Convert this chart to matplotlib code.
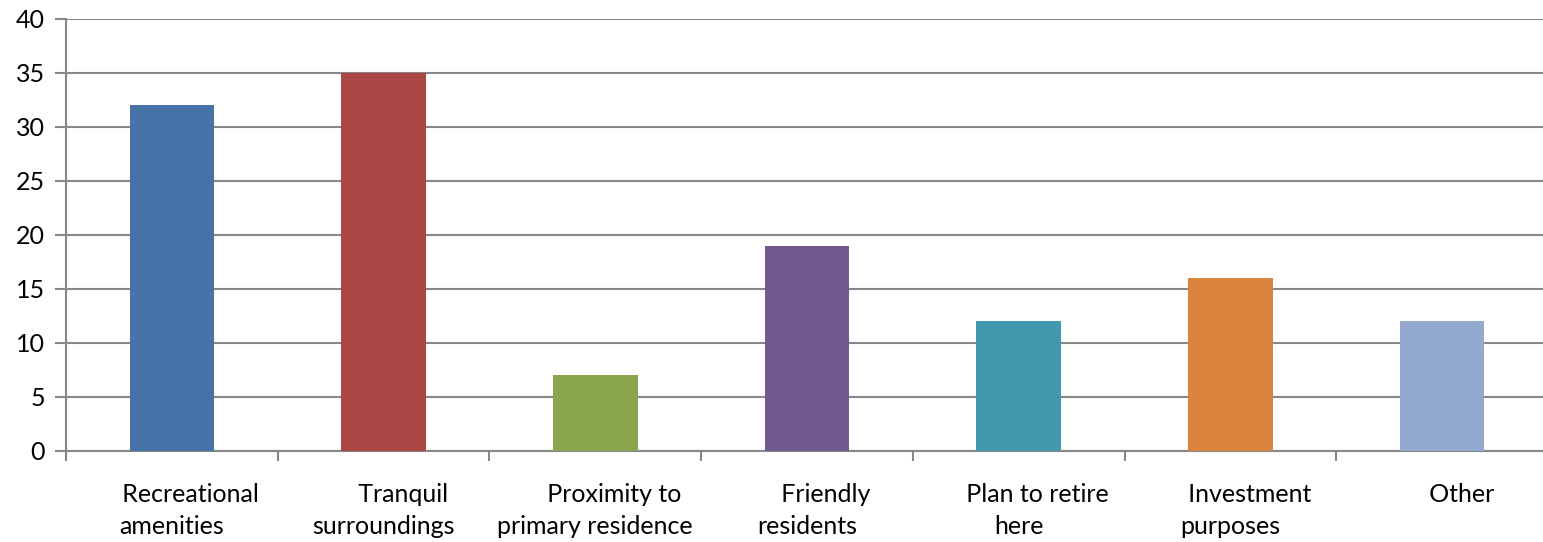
import numpy as np
import matplotlib
matplotlib.use('Agg')
import matplotlib.pyplot as plt

# Survey data
categories = ['Recreational\namenities', 'Tranquil\nsurroundings', 'Proximity to\nprimary residence',
              'Friendly\nresidents', 'Plan to retire\nhere', 'Investment\npurposes', 'Other']
values = [32, 35, 7, 19, 12, 16, 12]
colors = ['#4572A7', '#AA4643', '#89A54E', '#71588F', '#4198AF', '#DB843D', '#93A9CF']

plt.rcParams['font.family'] = ['Lato', 'DejaVu Sans']

fig = plt.figure(figsize=(15.43, 5.42), dpi=100)
ax = fig.add_axes([66 / 1543, 91 / 542, 1482 / 1543, 432 / 542])

x = np.arange(len(values))
ax.bar(x, values, width=0.4, color=colors, zorder=3)

ax.set_xlim(-0.5, len(values) - 0.5)
ax.set_ylim(0, 40)
ax.set_yticks(range(0, 41, 5))
ax.yaxis.grid(True, color='#878787', linewidth=1.5, zorder=0)

# category boundaries as tick marks, labels at centres
# (the first line of each label sits a little right of centre, as in the original)
labels = []
for c in categories:
    lines = c.split('\n')
    lines[0] = '      ' + lines[0]
    labels.append('\n'.join(lines))
ax.set_xticks(np.arange(-0.5, len(values), 1), minor=True)
ax.set_xticks(x)
ax.set_xticklabels(labels, linespacing=1.5)
ax.tick_params(axis='x', which='major', length=0, pad=23, labelsize=18, colors='black')
ax.tick_params(axis='x', which='minor', length=7, width=1.5, color='#878787')
ax.tick_params(axis='y', length=8, width=1.5, color='#878787', labelsize=18, pad=7)

for side in ['top', 'right']:
    ax.spines[side].set_visible(False)
for side in ['left', 'bottom']:
    ax.spines[side].set_color('#878787')
    ax.spines[side].set_linewidth(1.5)

plt.savefig('out.png', dpi=100)
